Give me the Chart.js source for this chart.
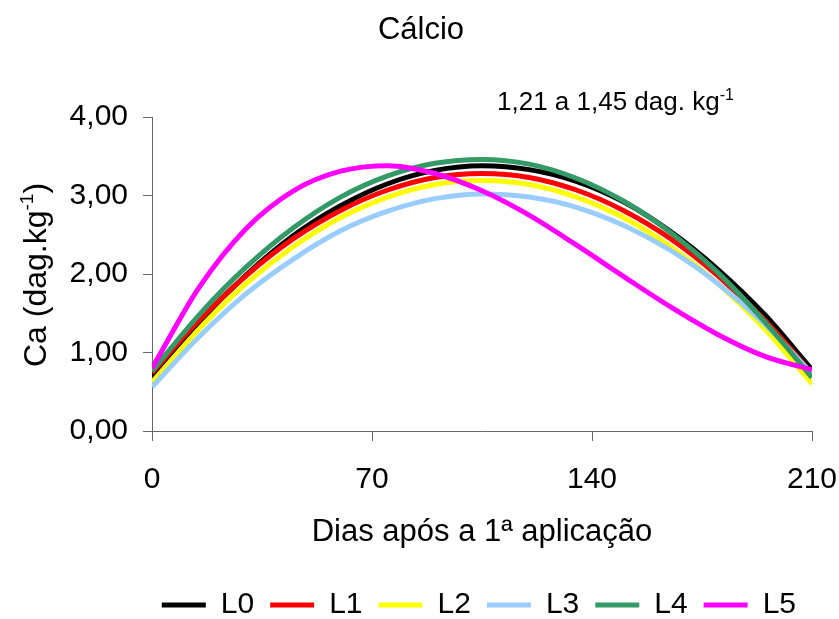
<!DOCTYPE html>
<html>
<head>
<meta charset="utf-8">
<script src="https://cdn.jsdelivr.net/npm/chart.js@4"></script>
<style>
  html, body { margin: 0; padding: 0; background: #fff; }
  #wrap { width: 839px; height: 619px; position: relative; }
</style>
</head>
<body>
<div id="wrap"><canvas id="caChart"></canvas></div>
<script>
const days = [0, 15, 30, 45, 60, 75, 90, 105, 120, 135, 150, 165, 180, 195, 210];
const L0 = [0.68, 1.39, 1.99, 2.49, 2.87, 3.15, 3.32, 3.38, 3.33, 3.18, 2.92, 2.54, 2.06, 1.48, 0.78];
const L1 = [0.74, 1.41, 1.98, 2.45, 2.81, 3.07, 3.23, 3.28, 3.23, 3.07, 2.81, 2.45, 1.98, 1.41, 0.73];
const L2 = [0.62, 1.30, 1.88, 2.35, 2.72, 2.98, 3.14, 3.19, 3.14, 2.98, 2.72, 2.35, 1.88, 1.30, 0.60];
const L3 = [0.56, 1.20, 1.75, 2.19, 2.55, 2.80, 2.96, 3.02, 2.98, 2.85, 2.62, 2.30, 1.88, 1.36, 0.73];
const L4 = [0.76, 1.48, 2.09, 2.59, 2.98, 3.25, 3.41, 3.46, 3.40, 3.22, 2.93, 2.53, 2.02, 1.39, 0.68];
const L5 = [0.80, 1.83, 2.58, 3.06, 3.31, 3.38, 3.28, 3.06, 2.75, 2.37, 1.97, 1.58, 1.23, 0.95, 0.78];
const xTicks = [0, 70, 140, 210];
const yTicks = [0, 1, 2, 3, 4];

const names = ['L0', 'L1', 'L2', 'L3', 'L4', 'L5'];
const series = [L0, L1, L2, L3, L4, L5];
const colors = ['#000000', '#FF0000', '#FFFF00', '#99CCFF', '#339966', '#FF00FF'];

const FONT = '"Liberation Sans", Arial, sans-serif';
Chart.defaults.font.family = FONT;
Chart.defaults.color = '#000';

// titulo, rotulo do eixo y e anotacao (com expoente)
const extraText = {
  id: 'extraText',
  afterDraw(chart) {
    const ctx = chart.ctx;
    function drawRun(runs, x, y) {
      let cx = x;
      runs.forEach(r => {
        ctx.font = r.f + 'px ' + FONT;
        ctx.fillText(r.t, cx, y + r.dy);
        cx += ctx.measureText(r.t).width;
      });
    }
    function runWidth(runs) {
      let w = 0;
      runs.forEach(r => { ctx.font = r.f + 'px ' + FONT; w += ctx.measureText(r.t).width; });
      return w;
    }
    ctx.save();
    ctx.fillStyle = '#000';

    // titulo
    ctx.font = '31px ' + FONT;
    ctx.textAlign = 'center';
    ctx.textBaseline = 'middle';
    ctx.fillText('Cálcio', 421, 30);

    ctx.textBaseline = 'alphabetic';
    ctx.textAlign = 'left';

    // eixo y
    const yr = [
      { t: 'Ca (dag.kg', f: 32, dy: 0 },
      { t: '-1', f: 19, dy: -13 },
      { t: ')', f: 32, dy: 0 }
    ];
    const w = runWidth(yr);
    ctx.save();
    ctx.translate(46, 275);
    ctx.rotate(-Math.PI / 2);
    drawRun(yr, -w / 2, 0);
    ctx.restore();

    // anotacao
    const ar = [
      { t: '1,21 a 1,45 dag. kg', f: 26, dy: 0 },
      { t: '-1', f: 16, dy: -10 }
    ];
    drawRun(ar, 497, 110);
    ctx.restore();
  }
};

new Chart(document.getElementById('caChart'), {
  type: 'line',
  data: {
    datasets: series.map((s, i) => ({
      label: names[i],
      data: s.map((v, k) => ({ x: days[k], y: v })),
      borderColor: colors[i],
      backgroundColor: colors[i],
      borderWidth: 5,
      pointRadius: 0,
      fill: false,
      cubicInterpolationMode: 'monotone',
      order: series.length - i
    }))
  },
  options: {
    responsive: true,
    maintainAspectRatio: false,
    animation: false,
    layout: { padding: { left: 0, right: 27, top: 117, bottom: -11 } },
    plugins: {
      title: { display: false },
      legend: {
        position: 'bottom',
        align: 'end',
        labels: {
          boxWidth: 44,
          boxHeight: 5,
          padding: 16,
          color: '#000',
          font: { size: 30 },
          sort: (a, b) => a.datasetIndex - b.datasetIndex,
          generateLabels: chart =>
            Chart.defaults.plugins.legend.labels.generateLabels(chart).map(l => Object.assign(l, { lineWidth: 0 }))
        }
      },
      tooltip: { enabled: false }
    },
    scales: {
      x: {
        type: 'linear',
        min: 0,
        max: 210,
        afterFit: s => { s.height = 143; s.paddingLeft = 0; s.paddingRight = 0; },
        afterBuildTicks: s => { s.ticks = xTicks.map(v => ({ value: v })); },
        ticks: { font: { size: 30 }, color: '#000', padding: 21 },
        grid: { drawOnChartArea: false, drawTicks: true, tickLength: 10, color: '#666' },
        border: { color: '#666', width: 1 },
        title: {
          display: true,
          text: 'Dias após a 1ª aplicação',
          color: '#000',
          font: { size: 31 },
          padding: { top: 4, bottom: 23.4 }
        }
      },
      y: {
        min: 0,
        max: 4,
        afterFit: s => { s.width = 152; s.paddingTop = 0; },
        afterBuildTicks: s => { s.ticks = yTicks.map(v => ({ value: v })); },
        ticks: {
          font: { size: 30 },
          color: '#000',
          padding: 15,
          callback: v => v.toFixed(2).replace('.', ',')
        },
        grid: { drawOnChartArea: false, drawTicks: true, tickLength: 9, color: '#666' },
        border: { color: '#666', width: 1 }
      }
    }
  },
  plugins: [extraText]
});
</script>
</body>
</html>
